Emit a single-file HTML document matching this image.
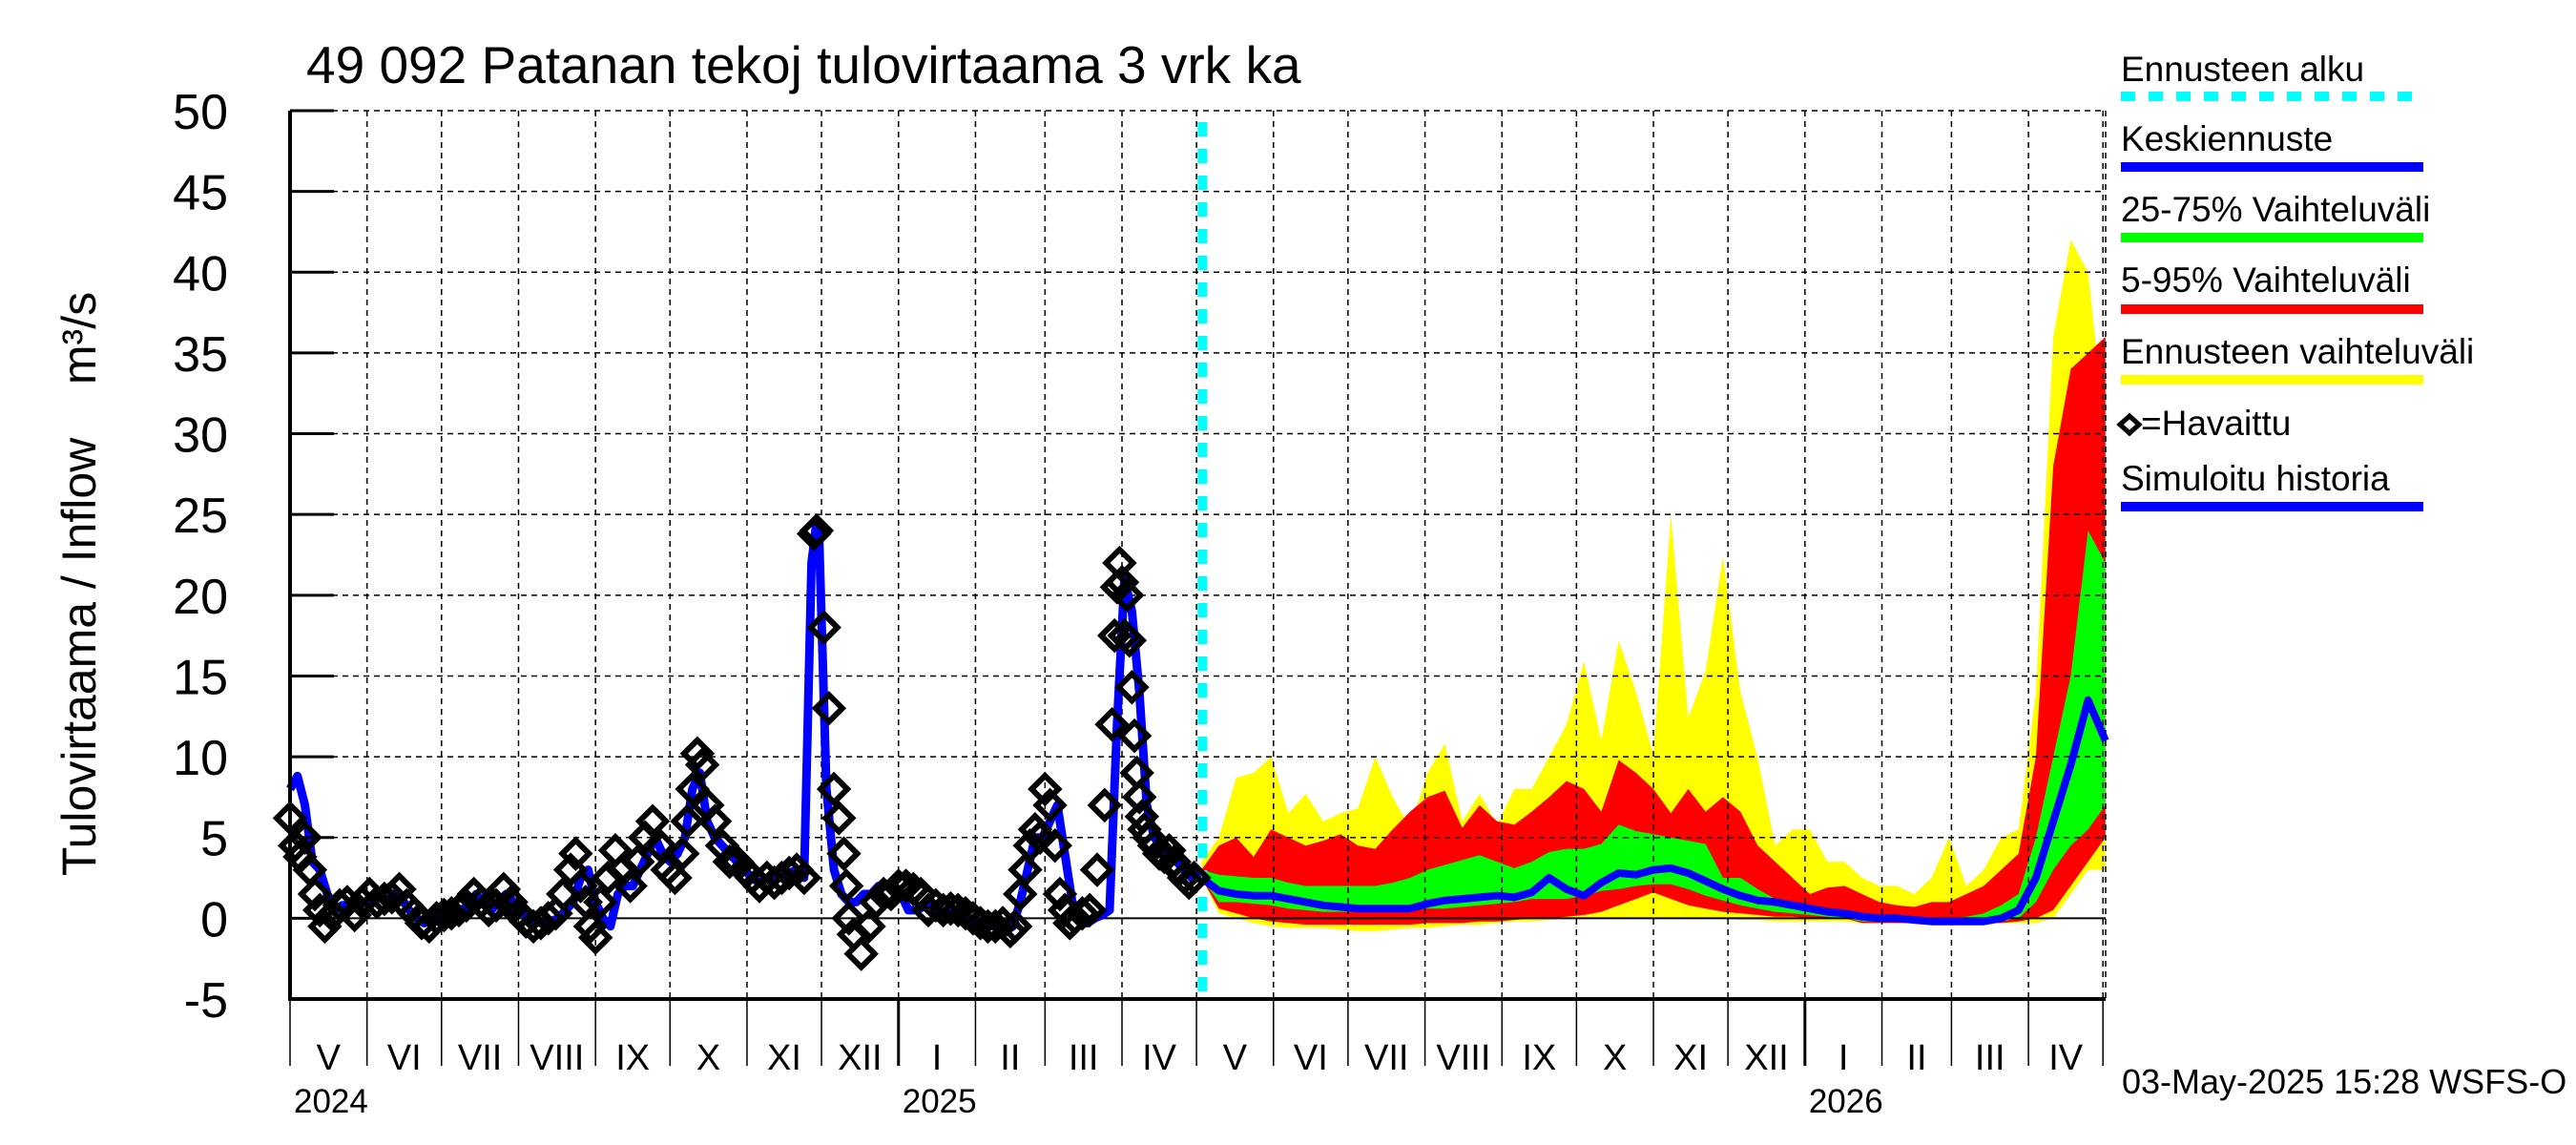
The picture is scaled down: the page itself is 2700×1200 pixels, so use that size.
<!DOCTYPE html>
<html><head><meta charset="utf-8">
<style>
html,body{margin:0;padding:0;background:#fff;}
svg{display:block;font-family:"Liberation Sans",sans-serif;}
</style></head>
<body>
<svg id="chart" width="2700" height="1200" viewBox="0 0 2700 1200" xmlns="http://www.w3.org/2000/svg">
<rect x="0" y="0" width="2700" height="1200" fill="#fff"/>
<text x="321" y="87" font-size="55" fill="#000">49 092 Patanan tekoj tulovirtaama 3 vrk ka</text>
<text transform="translate(100,612) rotate(-90)" text-anchor="middle" font-size="50" fill="#000" style="white-space:pre">Tulovirtaama / Inflow    m³/s</text>
<g id="bands"></g>
<g id="grid"></g>
<g id="series"></g>
<g id="axes"></g>
<g id="legend">
  <text x="2223" y="85" font-size="37">Ennusteen alku</text>
  <line x1="2223" y1="101" x2="2540" y2="101" stroke="#00ffff" stroke-width="10" stroke-dasharray="15,14"/>
  <text x="2223" y="158" font-size="37">Keskiennuste</text>
  <rect x="2223" y="170" width="317" height="10" fill="#0000ff"/>
  <text x="2223" y="232" font-size="37">25-75% Vaihteluväli</text>
  <rect x="2223" y="244" width="317" height="10" fill="#00ff00"/>
  <text x="2223" y="306" font-size="37">5-95% Vaihteluväli</text>
  <rect x="2223" y="319" width="317" height="10" fill="#ff0000"/>
  <text x="2223" y="381" font-size="37">Ennusteen vaihteluväli</text>
  <rect x="2223" y="393" width="317" height="10" fill="#ffff00"/>
  <path d="M2222,445 L2232,436 L2242,445 L2232,454 Z" fill="none" stroke="#000" stroke-width="5"/>
  <text x="2244" y="456" font-size="37">=Havaittu</text>
  <text x="2223" y="514" font-size="37">Simuloitu historia</text>
  <rect x="2223" y="526" width="317" height="10" fill="#0000ff"/>
</g>
<text x="2224" y="1146" font-size="36">03-May-2025 15:28 WSFS-O</text>
</svg>
<script>
// ---- data ----
const yTicks = [-5,0,5,10,15,20,25,30,35,40,45,50];
const monthLabels = ["V","VI","VII","VIII","IX","X","XI","XII","I","II","III","IV","V","VI","VII","VIII","IX","X","XI","XII","I","II","III","IV"];
const monthDays = [31,30,31,31,30,31,30,31,31,28,31,30,31,30,31,31,30,31,30,31,31,28,31,30];
const yearLabels = ["2024","2025","2026"];
const yearStartDays = [0,245,610];
const forecastStartDay = 367;
const simDays = [0,3,6,9,12,15,18,21,24,27,30,33,36,39,42,45,48,51,54,57,60,63,66,69,72,75,78,81,84,87,90,93,96,99,102,105,108,111,114,117,120,123,126,129,132,135,138,141,144,147,150,153,156,159,162,165,168,171,174,177,180,183,186,189,192,195,198,201,204,207,210,212,213,216,219,222,225,228,231,234,237,240,243,246,249,252,255,258,261,264,267,270,273,276,279,282,285,288,291,294,297,300,303,306,309,312,315,318,321,324,327,330,333,336,339,342,345,348,351,354,357,360,363,366];
const simVals = [8,8.8,7,3.5,3,1.5,0.5,0.8,0.8,1,1,1.2,1.5,1,1.5,1.2,0.5,0,-0.3,0,0,0.3,0.5,0.5,0.8,1.5,1,0.5,1,1.5,1,0.5,0,-0.3,-0.2,-0.2,0,0.5,1,2.5,3,1,0,-0.5,1.5,2,2,3,4,5,4,3.5,4,5,8,9,6,5,4.5,4,3.5,3,2.5,2.2,2.5,2.5,2.5,2.8,3,2.5,22,24.5,24,8,3,1.5,1,1,1.5,1.5,2,2,2,1.5,0.5,0.5,0.7,0.8,0.5,0.3,0.5,0.5,0,-0.3,-0.3,-0.5,-0.3,-0.8,-0.5,1,3,5,5,6,7,4,1,0,-0.3,0,0.2,0.5,12,21,19,14,7,5,4.5,4,3.5,3,2.5,2.8];
const obsDays = [0,2,4,6,8,10,12,14,17,20,23,26,29,32,35,38,41,44,47,50,53,56,59,62,65,68,71,74,77,80,83,86,89,92,95,98,101,104,107,110,113,115,117,119,121,123,125,128,131,134,137,140,143,146,149,152,155,158,160,162,164,166,168,171,174,177,180,183,186,189,192,195,198,201,204,207,211,212,215,217,219,221,223,224,225,227,230,233,236,239,242,245,248,251,254,257,260,263,266,269,272,275,278,281,284,287,290,292,294,296,298,300,302,304,306,308,310,312,314,316,319,322,325,328,331,332,333,334,335,336,337,338,339,340,341,342,343,344,346,348,350,352,354,356,358,360,362,364,366];
const obsVals = [6.2,4.5,3.8,5,3,1.5,0.5,-0.5,0.2,0.8,1,0.2,1,1.5,1,1.2,1.3,1.8,0.8,0.3,-0.3,-0.5,0,0.2,0.3,0.5,0.8,1.5,1,0.5,0.8,1.8,1,0.3,-0.2,-0.5,-0.3,0,0.3,1.5,3,4,2,1,-0.5,-1.2,1,2.5,4.2,3,2,3.5,5,6,4.5,3,2.5,4,6,8,10.2,9.5,7,6,4.5,3.5,3.5,3,2.5,2,2.5,2.2,2.5,2.8,3,2.5,23.8,24,18,13,8,6.2,4,2,0,-1,-2.2,-0.5,1,1.5,1.5,2,2,1.8,1.5,0.5,0.8,0.5,0.6,0.5,0.3,0,-0.3,-0.5,-0.5,-0.3,-0.8,-0.5,1.5,3,4.5,5.5,5,8,7,4.5,1.5,0.5,-0.3,0,0.3,0.5,3,7,12,17.5,20.5,22,20.8,17.5,20,17.2,14.3,11.3,9,7.5,6.3,5.5,5,4.5,4,3.8,4.2,3.5,3,2.5,2.2,2.5];
const fcStep = 7;
const fcMax = [3.5,5,8.7,9,10,6.5,7.7,6,6.5,6.8,10,7.5,5.6,9,10.8,6,7.7,5.8,8,8,10,12,15.9,11,17.2,14,10.1,25,12.4,15.3,22.4,14,9.9,4.5,5.5,5.5,3.5,3.5,2.5,2,2,1.5,2.5,5,2,3,5,5.5,14,36,42,40,30];
const fcP95 = [3,4.5,5,3.8,5.5,5,4.5,4.8,5.2,4.5,4.3,5.5,6.6,7.5,7.9,5.6,7,6,5.8,6.6,7.5,8.5,8,6.6,9.8,9,8,6.5,8,6.6,7.5,6.6,4.5,3.5,2.5,1.5,1.9,2,1.5,1,0.8,0.7,1,1,1.5,2,3,4,10,28,34,35,36];
const fcP75 = [3,2.7,2.6,2.5,2.5,2.2,2,2,2,2,2,2.2,2.5,3,3.3,3.6,3.9,3.5,3.1,3.5,4.1,4.3,4.3,4.6,5.8,5.4,5.2,5,4.8,4.6,2.5,2.5,1.8,1.2,0.8,0.5,0.4,0.3,0.3,0.2,0.1,0,0,0,0.1,0.3,0.8,1.5,5,10,15,24,22];
const fcMed = [2.5,1.7,1.5,1.4,1.4,1.2,1,0.8,0.7,0.6,0.6,0.6,0.6,0.9,1.1,1.2,1.3,1.4,1.3,1.6,2.5,1.8,1.4,2.2,2.8,2.7,3,3.1,2.8,2.3,1.8,1.4,1.1,1,0.8,0.6,0.4,0.3,0.1,0,0,-0.1,-0.2,-0.2,-0.2,-0.2,0,0.5,2.5,6,9.5,13.5,11];
const fcP25 = [2.5,1,1,0.9,0.8,0.6,0.5,0.4,0.4,0.4,0.4,0.4,0.5,0.6,0.6,0.7,0.8,0.9,1,1.2,1.2,1.2,1.4,1.7,1.8,2,2.1,2.1,1.8,1.4,1.1,0.8,0.6,0.4,0.3,0.2,0.1,0,-0.2,-0.2,-0.2,-0.2,-0.3,-0.3,-0.3,-0.3,-0.2,0,1,3,4.5,5.5,7];
const fcP5 = [2.5,0.6,0.3,0,-0.2,-0.3,-0.4,-0.4,-0.4,-0.4,-0.4,-0.4,-0.4,-0.3,-0.3,-0.3,-0.2,-0.2,-0.1,0,0,0.1,0.2,0.4,0.8,1.2,1.6,1.2,0.8,0.6,0.4,0.3,0.2,0.1,0.1,0,0,0,-0.3,-0.3,-0.3,-0.3,-0.3,-0.3,-0.3,-0.3,-0.3,-0.2,0,0.5,2,3.5,5];
const fcMin = [2.5,0.3,0,-0.3,-0.5,-0.6,-0.6,-0.6,-0.7,-0.8,-0.8,-0.7,-0.6,-0.6,-0.5,-0.4,-0.4,-0.3,-0.2,-0.2,-0.1,0,0,0,0,0,0,0,0,0,0,-0.1,-0.1,-0.2,-0.2,-0.2,-0.2,-0.2,-0.3,-0.3,-0.3,-0.3,-0.3,-0.3,-0.3,-0.3,-0.3,-0.3,-0.3,0,1.5,3,3];

// ---- scales ----
const X0 = 304, XR = 2207, PX_PER_DAY = 2.603;
const YT = 116, YB = 1047, VMIN = -5, VMAX = 50;
const xS = d => X0 + d * PX_PER_DAY;
const yS = v => YB - (v - VMIN) * (YB - YT) / (VMAX - VMIN);
const NS = "http://www.w3.org/2000/svg";
function mk(tag, parent, attrs) {
  const e = document.createElementNS(NS, tag);
  for (const k in attrs) e.setAttribute(k, attrs[k]);
  parent.appendChild(e);
  return e;
}
const gBands = document.getElementById('bands');
const gGrid = document.getElementById('grid');
const gSeries = document.getElementById('series');
const gAxes = document.getElementById('axes');

// ---- forecast bands ----
const fcDay = i => forecastStartDay + i * fcStep;
function band(upper, lower, color, name) {
  const n = Math.min(upper.length, lower.length);
  let d = '';
  for (let i = 0; i < n; i++) d += (i ? 'L' : 'M') + xS(fcDay(i)).toFixed(1) + ',' + yS(upper[i]).toFixed(1);
  for (let i = n - 1; i >= 0; i--) d += 'L' + xS(fcDay(i)).toFixed(1) + ',' + yS(lower[i]).toFixed(1);
  const p = mk('path', gBands, {d: d + 'Z', fill: color, stroke: 'none'});
  
  
}
band(fcMax, fcMin, '#ffff00', 'band-forecast-range');
band(fcP95, fcP5, '#ff0000', 'band-5-95');
band(fcP75, fcP25, '#00ff00', 'band-25-75');

// ---- grid ----
yTicks.forEach(v => {
  const y = yS(v);
  if (v === VMIN) return;
  const l = mk('line', gGrid, {x1: X0, x2: XR, y1: y, y2: y, stroke: '#000', 'stroke-width': v === 0 ? 2 : 1.5, 'stroke-dasharray': v === 0 ? 'none' : '6,5'});
  
  
});
let cum = 0;
const bounds = [0];
monthDays.forEach(md => { cum += md; bounds.push(cum); });
bounds.forEach((b, i) => {
  const x = xS(b);
  if (i > 0) {
    const l = mk('line', gGrid, {x1: x, x2: x, y1: YT, y2: YB, stroke: '#000', 'stroke-width': 1.5, 'stroke-dasharray': '6,5'});
    
    
  }
  const isYear = yearStartDays.indexOf(b) >= 0 && b > 0;
  const t = mk('line', gAxes, {x1: x, x2: x, y1: YB, y2: 1117, stroke: '#000', 'stroke-width': isYear ? 3 : 1.5});
  
  
});
const rl = mk('line', gGrid, {x1: XR, x2: XR, y1: YT, y2: YB, stroke: '#000', 'stroke-width': 1.5, 'stroke-dasharray': '6,5'});



// ---- forecast start ----
const fs = mk('line', gSeries, {x1: xS(forecastStartDay) + 1, x2: xS(forecastStartDay) + 1, y1: YT + 12, y2: YB, stroke: '#00ffff', 'stroke-width': 10, 'stroke-dasharray': '15,13'});



// ---- median forecast ----
let dm = '';
fcMed.forEach((v, i) => { dm += (i ? 'L' : 'M') + xS(fcDay(i)).toFixed(1) + ',' + yS(v).toFixed(1); });
const med = mk('path', gSeries, {d: dm, fill: 'none', stroke: '#0000ff', 'stroke-width': 8, 'stroke-linejoin': 'round'});



// ---- simulated history ----
let ds = '';
simVals.forEach((v, i) => { ds += (i ? 'L' : 'M') + xS(simDays[i]).toFixed(1) + ',' + yS(v).toFixed(1); });
const sim = mk('path', gSeries, {d: ds, fill: 'none', stroke: '#0000ff', 'stroke-width': 9, 'stroke-linejoin': 'round'});



// ---- observed ----
obsVals.forEach((v, i) => {
  const x = xS(obsDays[i]), y = yS(v), r = 14;
  const p = mk('path', gSeries, {d: `M${x - r},${y}L${x},${y - r}L${x + r},${y}L${x},${y + r}Z`, fill: 'none', stroke: '#000', 'stroke-width': 6});
  
  
});

// ---- axes ----
const la = mk('line', gAxes, {x1: X0, x2: X0, y1: YT, y2: YB + 2, stroke: '#000', 'stroke-width': 4});


const ba = mk('line', gAxes, {x1: X0, x2: XR, y1: YB, y2: YB, stroke: '#000', 'stroke-width': 4});


yTicks.forEach(v => {
  const y = yS(v);
  const tk = mk('line', gAxes, {x1: X0, x2: 350, y1: y, y2: y, stroke: '#000', 'stroke-width': 3});
  
  
  const t = mk('text', gAxes, {x: 239, y: y + 19, 'text-anchor': 'end', 'font-size': 52, fill: '#000'});
  t.textContent = String(v);
  
  
});
monthLabels.forEach((m, i) => {
  const cx = (xS(bounds[i]) + xS(bounds[i + 1])) / 2;
  const t = mk('text', gAxes, {x: cx, y: 1121, 'text-anchor': 'middle', 'font-size': 38, fill: '#000'});
  t.textContent = m;
  
  
});
yearLabels.forEach((yl, i) => {
  const t = mk('text', gAxes, {x: xS(yearStartDays[i]) + 4, y: 1166, 'font-size': 35, fill: '#000'});
  t.textContent = yl;
  
  
});
</script>
</body></html>
